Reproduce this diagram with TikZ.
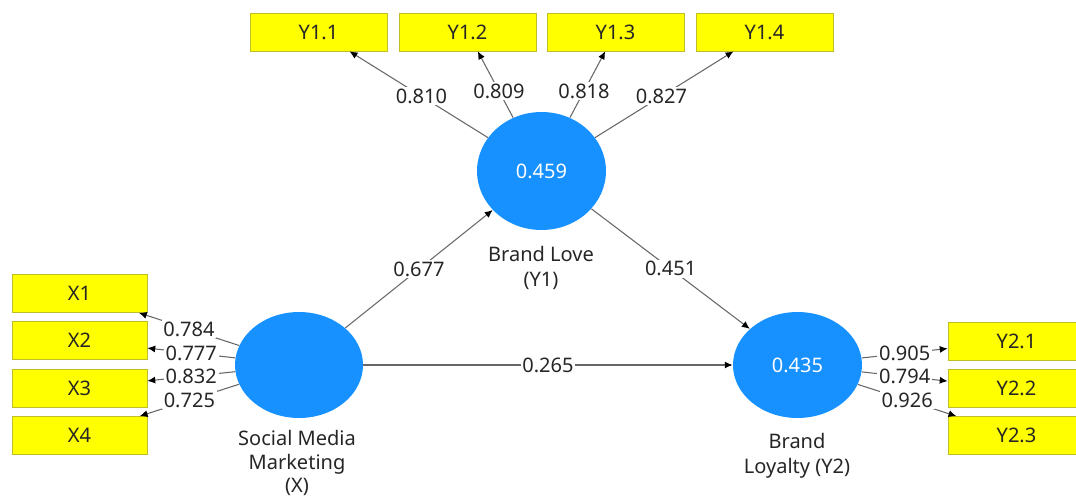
\documentclass[tikz,border=0pt]{standalone}
\usepackage{fontspec}
\setmainfont{Noto Sans}
\usetikzlibrary{shapes.geometric,arrows.meta}

\begin{document}
\begin{tikzpicture}[x=0.02cm, y=-0.02cm, every node/.style={font=\fontsize{11.4}{14.2}\selectfont, text=black!85}]
  \definecolor{latblue}{RGB}{22,145,255} \definecolor{indyel}{RGB}{255,255,0} \definecolor{indrim}{RGB}{190,190,40}
  \tikzstyle{latent}=[ellipse, fill=latblue, inner sep=0pt, text=white]
  \tikzstyle{indic}=[rectangle, draw=indrim, fill=indyel, minimum height=0.76cm, inner sep=0pt]
  \tikzstyle{edge}=[-{Latex[length=4.5pt,width=4pt,color=black]}, draw=black!60, line width=0.6pt]
  \tikzstyle{coef}=[midway, fill=white, inner sep=1pt]
  \useasboundingbox (0,0) rectangle (1076,501);
  % latent variables
  \node[latent, minimum width=2.58cm, minimum height=2.36cm] (love) at (541.5,171) {0.459};
  \node[latent, minimum width=2.56cm, minimum height=2.12cm] (smm) at (299,365) {};
  \node[latent, minimum width=2.58cm, minimum height=2.12cm] (loyal) at (797.5,365) {0.435};
  \node[align=center] (lovelab) at (541,267.5) {Brand Love\\(Y1)};
  \node[align=center, font=\fontsize{11.4}{13.6}\selectfont] (smmlab) at (297,463) {Social Media\\Marketing\\(X)};
  \node[align=center] (loyallab) at (797,456) {Brand\\Loyalty (Y2)};
  % indicators
  \foreach \i/\x in {1/318.5, 2/467.5, 3/615.5, 4/764.5} {
    \node[indic, minimum width=2.74cm] (y1ind\i) at (\x,32) {Y1.\i};
  }
  \foreach \i/\y in {1/293.5, 2/340.5, 3/388, 4/435.5} {
    \node[indic, minimum width=2.7cm] (xind\i) at (79.5,\y) {X\i};
  }
  \foreach \i/\y in {1/341, 2/388.5, 3/435.5} {
    \node[indic, minimum width=2.74cm] (y2ind\i) at (1016.5,\y) {Y2.\i};
  }
  % loadings
  \foreach \i/\w/\p in {1/0.810/0.48, 2/0.809/0.4, 3/0.818/0.4, 4/0.827/0.48} {
    \draw[edge] (love) -- node[coef, pos=\p] {\w} (y1ind\i);
  }
  \foreach \i/\w in {1/0.784, 2/0.777, 3/0.832, 4/0.725} {
    \draw[edge] (smm) -- node[coef] {\w} (xind\i);
  }
  \foreach \i/\w in {1/0.905, 2/0.794, 3/0.926} {
    \draw[edge] (loyal) -- node[coef] {\w} (y2ind\i);
  }
  % paths
  \draw[edge] (smm) -- node[coef] {0.677} (love);
  \draw[edge] (love) -- node[coef] {0.451} (loyal);
  \draw[edge] (smm) -- node[coef] {0.265} (loyal);
\end{tikzpicture}
\end{document}
